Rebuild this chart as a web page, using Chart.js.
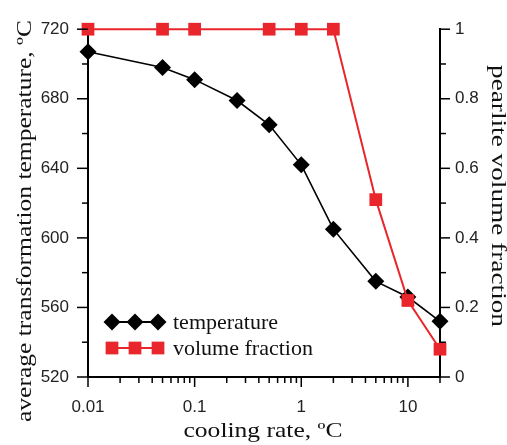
<!DOCTYPE html>
<html><head><meta charset="utf-8">
<script src="https://cdn.jsdelivr.net/npm/chart.js@4.4.1/dist/chart.umd.min.js"></script>
<style>html,body{margin:0;padding:0;background:#fff}#wrap{width:507px;height:445px;position:relative}</style>
</head><body><div id="wrap"><canvas id="c" width="507" height="445"></canvas></div>
<script>
const coolingRates = [0.01, 0.05, 0.1, 0.25, 0.5, 1, 2, 5, 10, 20];
const temperature = [707, 698, 691, 679, 665, 642, 605, 575, 566, 552];
const fractionRates = [0.01, 0.05, 0.1, 0.5, 1, 2, 5, 10, 20];
const volumeFraction = [1, 1, 1, 1, 1, 1, 0.51, 0.22, 0.08];
const seriesNames = ['temperature', 'volume fraction'];
const xMajorTicks = [0.01, 0.1, 1, 10];
const xMinorTicks = [0.02, 0.03, 0.04, 0.05, 0.06, 0.07, 0.08, 0.09, 0.2, 0.3, 0.4, 0.5, 0.6, 0.7, 0.8, 0.9, 2, 3, 4, 5, 6, 7, 8, 9, 20];
const tempMajorTicks = [520, 560, 600, 640, 680, 720];
const tempMinorTicks = [540, 580, 620, 660, 700];
const fracMajorTicks = [0, 0.2, 0.4, 0.6, 0.8, 1];
const fracMinorTicks = [0.1, 0.3, 0.5, 0.7, 0.9];
const xTitle = 'cooling rate, ºC';
const yTitle = 'average transformation temperature, ºC';
const y1Title = 'pearlite volume fraction';

const BLACK = '#000000';
const RED = '#e8262b';
const serif = '"Liberation Serif", "Times New Roman", serif';
const sans = '"Liberation Sans", Arial, sans-serif';

const tickPlugin = {
  id: 'axisTicks',
  afterDraw(chart) {
    const ctx = chart.ctx;
    const {x, y, y1} = chart.scales;
    ctx.save();
    ctx.strokeStyle = '#000';
    ctx.lineWidth = 1.5;
    const line = (x0, y0, x1, y1_) => { ctx.beginPath(); ctx.moveTo(x0, y0); ctx.lineTo(x1, y1_); ctx.stroke(); };
    const bottom = x.top;
    xMajorTicks.forEach(v => { const p = x.getPixelForValue(v); line(p, bottom, p, bottom + 10); });
    xMinorTicks.forEach(v => { const p = x.getPixelForValue(v); line(p, bottom, p, bottom + 6); });
    const left = y.right;
    tempMajorTicks.forEach(v => { const p = y.getPixelForValue(v); line(left, p, left - 11, p); });
    tempMinorTicks.forEach(v => { const p = y.getPixelForValue(v); line(left, p, left - 6, p); });
    const right = y1.left;
    fracMajorTicks.forEach(v => { const p = y1.getPixelForValue(v); line(right, p, right + 10, p); });
    fracMinorTicks.forEach(v => { const p = y1.getPixelForValue(v); line(right, p, right + 6, p); });
    ctx.restore();
  }
};

function drawStretched(ctx, text, cx, cy, rot, targetLen) {
  ctx.save();
  ctx.font = '22px ' + serif;
  ctx.fillStyle = '#111';
  ctx.textAlign = 'center';
  ctx.textBaseline = 'alphabetic';
  const w = ctx.measureText(text).width;
  ctx.translate(cx, cy);
  ctx.rotate(rot);
  ctx.scale(targetLen / w, 1);
  ctx.fillText(text, 0, 0);
  ctx.restore();
}

const titlePlugin = {
  id: 'axisTitles',
  afterDraw(chart) {
    const ctx = chart.ctx;
    const {x} = chart.scales;
    drawStretched(ctx, xTitle, (x.left + x.right) / 2 - 1, 437, 0, 159);
    drawStretched(ctx, yTitle, 31, 221, -Math.PI / 2, 402);
    drawStretched(ctx, y1Title, 492, 196, Math.PI / 2, 262);
  }
};

const legendPlugin = {
  id: 'customLegend',
  afterDraw(chart) {
    const ctx = chart.ctx;
    const rows = [
      {name: seriesNames[0], color: BLACK, style: 'rectRot', radius: 8.5, y: 322},
      {name: seriesNames[1], color: RED, style: 'rect', radius: 9, y: 348}
    ];
    ctx.save();
    rows.forEach(r => {
      const xs = [112, 135, 158];
      ctx.strokeStyle = r.color;
      ctx.lineWidth = 2;
      ctx.beginPath(); ctx.moveTo(xs[0], r.y); ctx.lineTo(xs[2], r.y); ctx.stroke();
      ctx.fillStyle = r.color;
      xs.forEach(px => Chart.helpers.drawPoint(ctx, {pointStyle: r.style, radius: r.radius, rotation: 0, borderWidth: 0}, px, r.y));
      ctx.fillStyle = '#111';
      ctx.font = '22px ' + serif;
      ctx.textAlign = 'left';
      ctx.textBaseline = 'middle';
      ctx.fillText(r.name, 173, r.y + 1);
    });
    ctx.restore();
  }
};

new Chart(document.getElementById('c'), {
  type: 'line',
  data: {
    datasets: [
      {
        label: seriesNames[1],
        data: fractionRates.map((r, i) => ({x: r, y: volumeFraction[i]})),
        yAxisID: 'y1',
        borderColor: RED,
        backgroundColor: RED,
        pointBackgroundColor: RED,
        pointBorderColor: RED,
        pointStyle: 'rect',
        pointRadius: 9,
        pointBorderWidth: 0,
        borderWidth: 2,
        tension: 0,
        clip: false,
        order: 0
      },
      {
        label: seriesNames[0],
        data: coolingRates.map((r, i) => ({x: r, y: temperature[i]})),
        yAxisID: 'y',
        borderColor: BLACK,
        backgroundColor: BLACK,
        pointBackgroundColor: BLACK,
        pointBorderColor: BLACK,
        pointStyle: 'rectRot',
        pointRadius: 8.5,
        pointBorderWidth: 0,
        borderWidth: 1.6,
        tension: 0,
        clip: false,
        order: 1
      }
    ]
  },
  options: {
    responsive: false,
    animation: false,
    devicePixelRatio: 1,
    layout: {padding: {top: 26, left: 0, right: 0, bottom: 0}},
    plugins: {legend: {display: false}, tooltip: {enabled: false}, title: {display: false}},
    scales: {
      x: {
        type: 'logarithmic', position: 'bottom', min: 0.01, max: 20,
        border: {display: true, color: '#000', width: 2},
        grid: {display: false, drawTicks: false},
        afterBuildTicks: s => { s.ticks = xMajorTicks.map(v => ({value: v})); },
        afterFit: s => { s.height = 68; },
        ticks: {
          autoSkip: false, maxRotation: 0, padding: 20, color: '#222',
          font: {family: sans, size: 17},
          callback: v => String(v)
        }
      },
      y: {
        type: 'linear', position: 'left', min: 520, max: 720,
        border: {display: true, color: '#000', width: 2},
        grid: {display: false, drawTicks: false},
        afterBuildTicks: s => { s.ticks = tempMajorTicks.map(v => ({value: v})); },
        afterFit: s => { s.width = 88; },
        ticks: {padding: 19, color: '#222', font: {family: sans, size: 17}, callback: v => String(v)}
      },
      y1: {
        type: 'linear', position: 'right', min: 0, max: 1,
        border: {display: true, color: '#000', width: 2},
        grid: {display: false, drawTicks: false},
        afterBuildTicks: s => { s.ticks = fracMajorTicks.map(v => ({value: v})); },
        afterFit: s => { s.width = 67; },
        ticks: {padding: 15, color: '#222', font: {family: sans, size: 17}, callback: v => String(v)}
      }
    }
  },
  plugins: [tickPlugin, titlePlugin, legendPlugin]
});
</script>
</body></html>
